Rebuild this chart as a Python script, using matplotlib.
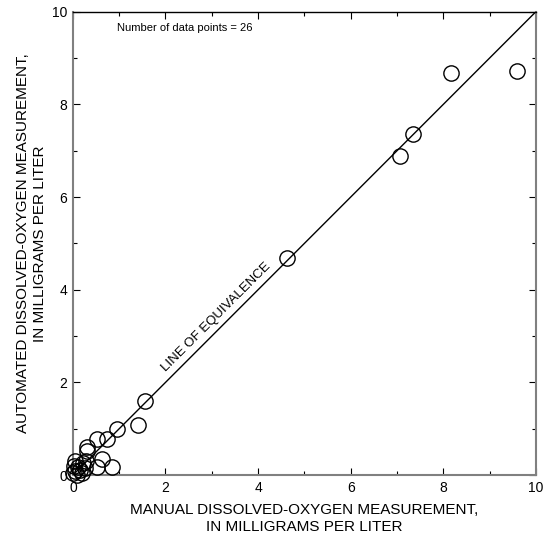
import numpy as np
import matplotlib.pyplot as plt
from matplotlib.ticker import MultipleLocator

manual = [9.60, 8.17, 7.35, 7.07, 4.62, 1.56, 1.40, 0.95, 0.73, 0.52,
          0.31, 0.30, 0.62, 0.85, 0.53, 0.04, 0.02, 0.22, 0.26, 0.15,
          0.08, 0.19, 0.00, 0.28, 0.12, 0.05]
automated = [8.73, 8.68, 7.36, 6.89, 4.69, 1.59, 1.08, 1.00, 0.78, 0.78,
             0.60, 0.52, 0.35, 0.18, 0.18, 0.30, 0.20, 0.25, 0.15, 0.10,
             0.00, 0.05, 0.05, 0.30, 0.18, 0.08]
equiv = [0, 10]

plt.rcParams['font.family'] = ['Liberation Sans', 'DejaVu Sans']

fig = plt.figure(figsize=(5.44, 5.35), dpi=100)
ax = fig.add_axes([0.134, 0.112, 0.851, 0.866])

ax.plot(equiv, equiv, color='black', lw=1.0, zorder=2)
ax.plot(manual, automated, 'o', mfc='none', mec='black', ms=11, mew=1.0,
        clip_on=False, zorder=3)

ax.set_xlim(0, 10)
ax.set_ylim(0, 10)
ax.xaxis.set_major_locator(MultipleLocator(2))
ax.yaxis.set_major_locator(MultipleLocator(2))
ax.xaxis.set_minor_locator(MultipleLocator(1))
ax.yaxis.set_minor_locator(MultipleLocator(1))
ax.tick_params(which='both', direction='in', top=True, right=True,
               labelsize=10, pad=4)
ax.tick_params(which='major', length=5, width=0.8)
ax.tick_params(which='minor', length=3, width=0.8)

for side in ['left', 'bottom', 'right']:
    ax.spines[side].set_color('#808080')
    ax.spines[side].set_linewidth(1.5)
ax.spines['top'].set_color('black')
ax.spines['top'].set_linewidth(1.0)

ax.text(0.95, 9.65, 'Number of data points = 26', fontsize=8,
        ha='left', va='center')
ax.text(3.1, 3.4, 'LINE OF EQUIVALENCE', fontsize=9.5, rotation=45,
        rotation_mode='anchor', ha='center', va='center')

ax.set_xlabel('MANUAL DISSOLVED-OXYGEN MEASUREMENT,\nIN MILLIGRAMS PER LITER',
              fontsize=11, linespacing=1.3, labelpad=6)
ax.set_ylabel('AUTOMATED DISSOLVED-OXYGEN MEASUREMENT,\nIN MILLIGRAMS PER LITER',
              fontsize=11, linespacing=1.3, labelpad=3.5)

fig.savefig('out.png', dpi=100)
